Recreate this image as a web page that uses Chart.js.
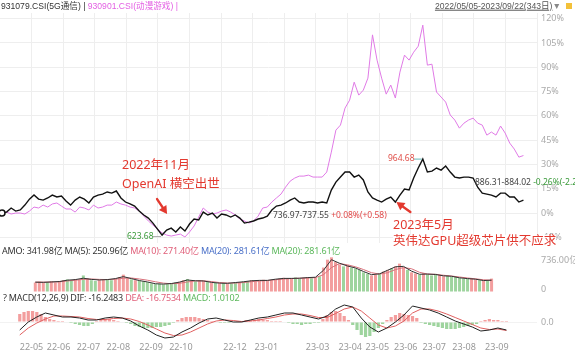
<!DOCTYPE html>
<html><head><meta charset="utf-8">
<script src="https://cdn.jsdelivr.net/npm/chart.js@4.4.0/dist/chart.umd.min.js"></script>
<style>
html,body{margin:0;padding:0;background:#fff;}
body{width:575px;height:355px;overflow:hidden;position:relative;font-family:"Noto Sans","Noto Sans CJK SC",sans-serif;}
.cv{position:absolute;left:0;}
.t{position:absolute;white-space:nowrap;line-height:1;transform:translateY(-50%);}
.s{font-size:8.5px;}
.h{font-size:9px;letter-spacing:-0.2px;}
.top{font-family:"Liberation Sans","Noto Sans CJK SC",sans-serif;font-size:8.6px;}
.big{font-size:12.5px;color:#e3392f;}
</style></head><body>
<canvas id="cMain" class="cv" style="top:0px" width="575" height="246"></canvas>
<canvas id="cVol" class="cv" style="top:250px" width="575" height="47"></canvas>
<canvas id="cMacd" class="cv" style="top:298px" width="575" height="57"></canvas>

<div class="t top" style="left:1px;top:6px"><span style="color:#333">931079.CSI(5G通信) | </span><span style="color:#e35ee3">930901.CSI(动漫游戏) |</span></div>
<div class="t top" style="right:14px;top:6px;color:#555"><span style="text-decoration:underline">2022/05/05-2023/09/22(343日)</span><span style="color:#888">▼</span></div>
<div style="position:absolute;left:566px;top:3px;width:6px;height:6px;background:#f3c13a"></div>

<div class="t big" style="left:122px;top:165px">2022年11月</div>
<div class="t big" style="left:122px;top:184px">OpenAI 横空出世</div>
<div class="t s" style="left:127px;top:236px;color:#3a9a3a">623.68</div>
<div class="t s" style="left:273px;top:215px;color:#444">736.97-737.55 <span style="color:#e04848">+0.08%(+0.58)</span></div>
<div class="t s" style="left:388px;top:158px;color:#e0504a">964.68</div>
<div class="t s" style="left:475px;top:182px;color:#444">886.31-884.02 <span style="color:#3a9a3a">-0.26%(-2.29</span></div>
<div class="t big" style="left:393px;top:225px">2023年5月</div>
<div class="t big" style="left:393px;top:241px;background:#fff">英伟达GPU超级芯片供不应求</div>

<div class="t h" style="left:2px;top:250px;color:#333">AMO: 341.98亿 MA(5): 250.96亿 <span style="color:#e0607a">MA(10): 271.40亿</span> <span style="color:#4a70c8">MA(20): 281.61亿</span> <span style="color:#5cb85c">MA(20): 281.61亿</span></div>
<div class="t h" style="left:3px;top:297px;color:#333">? MACD(12,26,9) DIF: -16.2483 <span style="color:#e0607a">DEA: -16.7534</span> <span style="color:#5cb85c">MACD: 1.0102</span></div>

<script>
// ---- data (trading-day index based; STEP = days between samples) ----
const STEP = 3, MA_STEP = 6;
const blackPct = [0,0.6,3.1,1.2,1.9,4.9,8.6,11.1,8.6,8.0,
 9.3,11.1,9.9,10.5,7.4,4.9,8.0,9.9,8.6,6.2,
 9.9,11.1,11.7,13.0,12.3,13.6,9.3,6.8,5.6,4.3,
 1.2,-1.2,-3.1,-6.2,-9.9,-13.6,-10.5,-9.3,-11.7,-8.6,
 -11.1,-6.8,-3.7,-4.3,0.6,-1.2,0,-3.1,-0.6,-1.2,
 -2.5,-1.2,-3.1,-6.2,-5.6,-4.9,-3.7,-3.1,-1.9,1.9,
 4.3,4.9,6.2,8.0,9.3,6.8,6.2,6.8,6.8,6.2,
 6.8,6.2,14.2,19.1,22.2,25.3,25.3,22.2,23.4,20.4,
 13.0,9.3,8.0,6.8,8.6,9.9,6.8,11.1,14.8,14.2,
 21.6,27.8,33.3,25.3,25.9,27.8,26.5,29.0,25.3,22.2,
 21.6,22.2,22.2,21.6,16.0,12.3,11.7,11.1,9.9,12.3,
 12.3,9.9,9.9,6.8,8.0];
const pinkPct = [0,0.6,-0.6,0,0,-0.6,1.2,3.7,3.1,4.9,
 3.7,5.6,6.2,4.3,2.5,2.5,0.6,3.7,3.1,1.9,
 4.9,3.1,3.7,4.9,4.9,6.8,5.6,4.9,3.7,3.1,
 1.2,-1.9,-4.9,-7.4,-9.9,-12.3,-13.6,-14.2,-13.6,-13.0,
 -14.8,-11.7,-8.0,-2.5,3.1,0.6,-0.6,0,1.2,1.9,
 0.6,-1.2,-3.7,-4.9,-6.2,-4.9,-1.9,3.1,3.7,6.8,
 9.3,11.7,16.0,19.7,21.6,22.8,22.8,23.4,22.2,22.2,
 22.2,25.3,37.6,51.2,54.3,64.8,69.7,80.8,72.8,75.9,
 83.3,110,94.4,83.3,73.4,79.0,71.0,87.0,97.5,94.4,
 99.3,103.0,116.0,91.3,91.9,74.7,71.6,68.5,60.5,57.4,
 52.4,55.5,57.4,58.6,55.5,54.3,48.1,50.0,48.1,53.7,
 49.4,43.2,39.5,34.5,35.5];
const amoYi = [240,260,230,250,270,240,280,
 300,320,290,330,310,420,350,300,280,
 300,330,320,300,340,380,440,350,320,
 300,290,270,250,
 220,200,210,190,200,220,240,260,
 300,330,290,270,300,280,250,
 240,230,220,230,210,220,240,250,
 260,280,300,270,290,310,280,300,320,340,360,330,
 350,370,340,360,380,350,370,400,
 620,820,880,760,
 700,650,680,620,600,560,
 500,460,420,440,470,
 520,560,600,650,720,620,560,
 500,470,440,480,450,420,460,430,400,420,390,
 380,360,340,330,350,320,300,290,280,340];
const ma5Yi = [250,245,255,265,300,315,350,320,305,315,340,390,340,290,255,210,200,215,250,305,
 285,280,245,225,220,240,260,285,295,295,325,345,345,350,365,375,550,820,730,660,
 610,520,440,460,550,640,650,530,450,455,445,410,400,360,340,325,290,300];
const ma10Yi = [250,250,252,258,280,300,320,330,320,315,325,350,355,330,300,260,225,210,220,255,
 280,285,265,240,228,228,240,262,280,292,310,330,342,348,355,365,440,620,720,690,
 640,570,490,455,490,570,620,590,500,455,448,425,405,380,355,335,310,300];
const difVals = [-16,0,10,18,14,10,10,8,4,4,8,10,8,2,-8,-16,-26,-32,-30,-20,
 -12,-2,6,8,4,0,0,4,8,10,14,18,18,14,10,6,12,26,34,30,
 8,-10,-20,-12,0,14,32,28,24,18,10,2,-4,-10,-18,-16,-12,-16];
const deaVals = [-26,-12,-2,6,12,12,11,10,7,5,5,7,8,6,1,-6,-14,-22,-27,-26,
 -20,-12,-4,2,4,3,1,2,4,7,10,14,16,16,13,9,9,17,26,30,
 22,8,-6,-12,-8,2,18,26,26,22,16,9,2,-5,-12,-15,-14,-17];
const macdBars = [16,20,22,22,20,16,10,6,
 4,2,2,0,-2,-4,
 -6,-8,-8,-4,
 2,4,6,6,4,2,0,
 -2,-4,-8,-10,-12,-12,-12,-10,-10,-8,-6,-2,
 4,8,10,10,10,8,6,
 4,2,0,-2,-2,-2,0,
 2,2,4,4,4,6,4,4,2,2,2,0,
 -2,-4,-4,-6,-4,-4,-2,-2,
 6,14,20,22,18,12,4,
 -6,-16,-26,-30,-28,-20,-12,-4,
 4,10,14,18,16,14,12,8,
 -2,-4,-6,-8,-10,-12,-14,-14,-14,-12,-10,-8,-6,-4,
 2,4,6,4,4,2,2];
const pctTicks = [-15,0,15,30,45,60,75,90,105,120];
const volTicks = [0,736];
const macdTicks = [0];
const monthLabels = ['22-05','22-06','22-07','22-08','22-09','22-10','22-12','23-01','23-03','23-04','23-05','23-06','23-07','23-08','23-09'];
const monthStartIdx = [0,19,40,61,84,105,143,165,201,224,243,263,283,304,327];

// ---- setup ----
Chart.defaults.font.family = '"Noto Sans","Noto Sans CJK SC",sans-serif';
Chart.defaults.font.size = 9;
Chart.defaults.animation = false;
Chart.defaults.plugins.legend.display = false;
Chart.defaults.plugins.tooltip.enabled = false;

const XMIN = -1.3, XMAX = 350.9, RIGHT_W = 38;
const pts = (arr, step) => arr.map((v,i)=>({x:i*step, y:v}));
const RED = 'rgba(238,120,120,0.72)', GREEN = 'rgba(120,196,120,0.72)';

function fixY(s){ s.width = RIGHT_W; s.paddingTop = 0; s.paddingBottom = 0; }
function fixX(s){ s.paddingLeft = 0; s.paddingRight = 0; }

function arrow(ctx,x0,y0,x1,y1,color){
  const a=Math.atan2(y1-y0,x1-x0), L=8, W=4.5;
  ctx.save(); ctx.strokeStyle=color; ctx.fillStyle=color; ctx.lineWidth=2.4; ctx.lineCap='round';
  ctx.beginPath(); ctx.moveTo(x0,y0); ctx.lineTo(x1-Math.cos(a)*L*0.7, y1-Math.sin(a)*L*0.7); ctx.stroke();
  ctx.beginPath(); ctx.moveTo(x1,y1);
  ctx.lineTo(x1-Math.cos(a)*L+Math.sin(a)*W, y1-Math.sin(a)*L-Math.cos(a)*W);
  ctx.lineTo(x1-Math.cos(a)*L-Math.sin(a)*W, y1-Math.sin(a)*L+Math.cos(a)*W);
  ctx.closePath(); ctx.fill(); ctx.restore();
}

const annot = {
  id:'annot',
  afterDatasetsDraw(chart){
    const {ctx, scales:{x,y}} = chart;
    const px = i => x.getPixelForValue(i*STEP), py = v => y.getPixelForValue(v);
    ctx.save();
    ctx.beginPath(); ctx.arc(px(0), py(blackPct[0]), 3, 0, Math.PI*2);
    ctx.fillStyle='#fff'; ctx.fill(); ctx.lineWidth=1.5; ctx.strokeStyle='#111'; ctx.stroke();
    const iMin = blackPct.indexOf(Math.min(...blackPct));
    const mx = px(iMin), my = py(blackPct[iMin]);
    ctx.lineWidth=1; ctx.strokeStyle='#aaa';
    ctx.beginPath(); ctx.moveTo(mx-9, my+1.5); ctx.lineTo(mx-1, my+1.5); ctx.stroke();
    const iMax = blackPct.indexOf(Math.max(...blackPct));
    const Mx = px(iMax), My = py(blackPct[iMax]);
    ctx.strokeStyle='#6bb';
    ctx.beginPath(); ctx.moveTo(Mx-9, My); ctx.lineTo(Mx-1, My); ctx.stroke();
    ctx.restore();
    arrow(ctx, mx-5, my-36, mx+5, my-21, '#e3392f');
    const a2 = 86, ax = px(a2), ay = py(blackPct[a2]);
    arrow(ctx, ax+15, ay+10, ax+1, ay, '#e3392f');
  }
};

new Chart(document.getElementById('cMain'), {
  type:'line',
  data:{datasets:[
    {data:pts(blackPct,STEP), borderColor:'#111', borderWidth:1.4, pointRadius:0, tension:0},
    {data:pts(pinkPct,STEP), borderColor:'#e07ae6', borderWidth:1, pointRadius:0, tension:0}
  ]},
  options:{
    responsive:false, devicePixelRatio:1,
    layout:{padding:{top:13,bottom:3,left:0,right:0}},
    scales:{
      x:{type:'linear', min:XMIN, max:XMAX, border:{display:false},
         grid:{drawTicks:false, color:'#eee'}, ticks:{display:false},
         afterBuildTicks(s){ const t=[]; for(let k=1;k<=17;k++) t.push({value:XMIN+(XMAX-XMIN)*k/17}); s.ticks=t; },
         afterFit(s){ fixX(s); s.height=0; }},
      y:{position:'right', min:-18.5, max:123.5, border:{display:false},
         grid:{drawTicks:false, color:'#eee'},
         ticks:{color:'#aaa', padding:4, font:{size:9}, callback:v=>v+'%'},
         afterBuildTicks(s){ s.ticks = pctTicks.map(v=>({value:v})); },
         afterFit:fixY}
    }
  },
  plugins:[annot]
});

const volColors = amoYi.map((v,i)=> (i===0 || blackPct[i]>=blackPct[i-1]) ? RED : GREEN);
new Chart(document.getElementById('cVol'), {
  type:'bar',
  data:{datasets:[
    {type:'line', data:pts(ma5Yi,MA_STEP), borderColor:'#333', borderWidth:1, pointRadius:0, tension:0},
    {type:'line', data:pts(ma10Yi,MA_STEP), borderColor:'#d8707a', borderWidth:1, pointRadius:0, tension:0},
    {data:pts(amoYi,STEP), backgroundColor:volColors, barPercentage:0.75, categoryPercentage:1}
  ]},
  options:{
    responsive:false, devicePixelRatio:1,
    layout:{padding:{top:5,bottom:5,left:0,right:0}},
    scales:{
      x:{type:'linear', min:XMIN, max:XMAX, display:false, afterFit:fixX},
      y:{position:'right', min:0, max:939, border:{display:false},
         grid:{drawTicks:false, color:'rgba(0,0,0,0)'},
         ticks:{color:'#aaa', padding:4, font:{size:9}, labelOffset:-3, callback:v=> v===0 ? '0' : v.toFixed(2)+'亿'},
         afterBuildTicks(s){ s.ticks = volTicks.map(v=>({value:v})); },
         afterFit:fixY}
    }
  }
});

const histColors = macdBars.map(v=> v>=0 ? RED : GREEN);
new Chart(document.getElementById('cMacd'), {
  type:'bar',
  data:{datasets:[
    {type:'line', data:pts(difVals,MA_STEP), borderColor:'#222', borderWidth:1, pointRadius:0, tension:0},
    {type:'line', data:pts(deaVals,MA_STEP), borderColor:'#e06060', borderWidth:1, pointRadius:0, tension:0},
    {data:pts(macdBars,STEP), backgroundColor:histColors, barPercentage:0.75, categoryPercentage:1}
  ]},
  options:{
    responsive:false, devicePixelRatio:1,
    layout:{padding:{top:5,bottom:0,left:0,right:0}},
    scales:{
      x:{type:'linear', min:XMIN, max:XMAX, border:{display:false},
         grid:{display:false, drawTicks:false},
         ticks:{color:'#999', padding:1, align:'start', maxRotation:0, autoSkip:false, font:{size:9},
                callback:(v,i)=>monthLabels[i]},
         afterBuildTicks(s){ s.ticks = monthStartIdx.map(v=>({value:v})); },
         afterFit(s){ fixX(s); s.height=14; }},
      y:{position:'right', min:-38, max:38, border:{display:false},
         grid:{drawTicks:false, color:'#f2f2f2'},
         ticks:{color:'#aaa', padding:4, font:{size:9}, callback:v=>v.toFixed(1)},
         afterBuildTicks(s){ s.ticks = macdTicks.map(v=>({value:v})); },
         afterFit:fixY}
    }
  }
});
</script>
</body></html>
